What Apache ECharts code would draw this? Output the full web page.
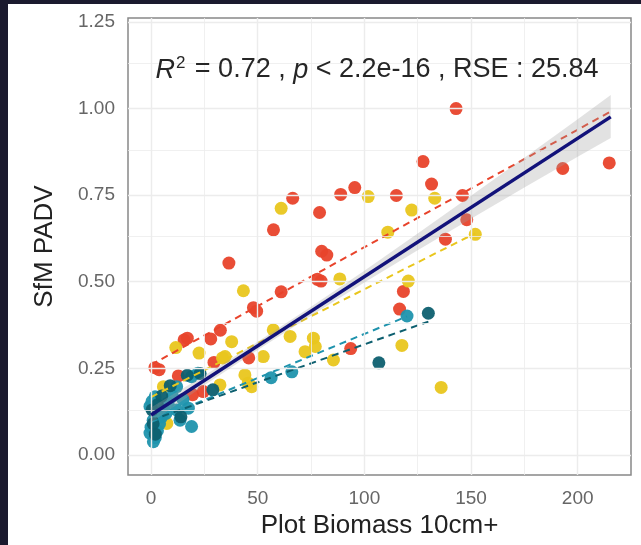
<!DOCTYPE html>
<html>
<head>
<meta charset="utf-8">
<script src="https://cdn.jsdelivr.net/npm/echarts@6/dist/echarts.min.js"></script>
<style>
  html, body { margin: 0; padding: 0; background: #1b1a2e; }
  #chart { width: 641px; height: 545px; }
</style>
</head>
<body>
<div id="chart"></div>
<script>
// points: [biomass, PADV]
const redPts = [
  [143, 1.00], [214.8, 0.843], [193, 0.827], [127.5, 0.847], [131.5, 0.782], [115, 0.749],
  [95.5, 0.772], [88.9, 0.752], [66.4, 0.741], [57.4, 0.65], [79, 0.70], [80, 0.588],
  [82.4, 0.577], [36.5, 0.554], [146, 0.749], [138, 0.623], [148, 0.679], [79.7, 0.502],
  [78, 0.507], [61, 0.471], [48, 0.425], [49.5, 0.415], [118.3, 0.472], [116.5, 0.421],
  [32.5, 0.36], [28, 0.335], [15.5, 0.332], [17, 0.337], [29.5, 0.267], [1.8, 0.252],
  [3.8, 0.246], [12.8, 0.228], [19.5, 0.174], [24.5, 0.183], [45.8, 0.28], [93.6, 0.307]
]
const yellowPts = [
  [101.8, 0.746], [61, 0.712], [133, 0.741], [122.2, 0.707], [111, 0.643], [152, 0.637],
  [120.6, 0.502], [117.6, 0.316], [136, 0.195], [88.5, 0.508], [43.3, 0.474], [22.5, 0.294],
  [37.8, 0.327], [34.7, 0.284], [57.3, 0.361], [65.2, 0.342], [52.6, 0.284], [72.2, 0.298],
  [76.1, 0.337], [77, 0.313], [85.5, 0.274], [44, 0.231], [45.6, 0.207], [47.2, 0.197],
  [32.3, 0.202], [5.8, 0.197], [7.4, 0.091], [11.6, 0.31], [33.5, 0.28]
]
const tealPts = [
  [-0.5, 0.14], [1.9, 0.168], [0.5, 0.155], [2.5, 0.12], [1, 0.1], [0, 0.08], [-0.5, 0.063],
  [1.1, 0.038], [2, 0.05], [3, 0.07], [4, 0.09], [5, 0.11], [6, 0.13], [8, 0.15], [12, 0.13],
  [13.6, 0.10], [19, 0.082], [12, 0.197], [17.5, 0.135], [19, 0.226], [22, 0.236],
  [56.3, 0.223], [66, 0.24], [120, 0.401], [10, 0.17], [7, 0.12], [15, 0.16]
]
const darkTealPts = [
  [106.8, 0.266], [130, 0.409], [0.5, 0.13], [3, 0.145], [9, 0.2], [17, 0.23], [23, 0.235],
  [29, 0.188], [1, 0.09], [2, 0.06], [14, 0.11], [5, 0.17]
]

// fitted lines (end points) and the grey band round the overall fit
const overallFit = [[0, 0.115], [215.5, 0.976]]
const redFit = [[0, 0.26], [215, 0.99]]
const yellowFit = [[0, 0.167], [152, 0.64]]
const tealFit = [[0, 0.095], [120, 0.40]]
const darkTealFit = [[0, 0.10], [130, 0.385]]
const bandX = [0, 25, 50, 75, 100, 125, 150, 175, 200, 215.5]
const bandLow = [0.093, 0.201, 0.303, 0.402, 0.498, 0.591, 0.682, 0.772, 0.861, 0.915]
const bandHigh = [0.137, 0.229, 0.327, 0.428, 0.532, 0.639, 0.748, 0.858, 0.969, 1.039]

const xTicks = [0, 50, 100, 150, 200]
const yTicks = [0, 0.25, 0.5, 0.75, 1, 1.25]
const xMinor = [25, 75, 125, 175]
const yMinor = [0.125, 0.375, 0.625, 0.875, 1.125]

const font = "Liberation Sans"

let myChart = echarts.init(document.getElementById("chart"), null, { renderer: "canvas" })

function gridLines(xs, ys, width){
    return {
        silent: true,
        symbol: ["none", "none"],
        label: { show: false },
        lineStyle: { color: "#ececec", type: "solid", width: width },
        data: xs.map(v => ({ xAxis: v })).concat(ys.map(v => ({ yAxis: v })))
    }
}

function fitLine(name, data, color){
    return {
        name: name,
        type: "line",
        data: data,
        symbol: "none",
        z: 4,
        lineStyle: { color: color, width: 2, type: [7, 5] }
    }
}

function dots(name, data, color){
    return {
        name: name,
        type: "scatter",
        data: data,
        symbolSize: 13,
        z: 3,
        itemStyle: { color: color, opacity: 0.95 }
    }
}

let option = {
    backgroundColor: "#1b1a2e",
    animation: false,
    graphic: [
        { type: "rect", z: -10, shape: { x: 8, y: 4, width: 633, height: 541 }, style: { fill: "#ffffff" } },
        {
            type: "text", z: 10,
            style: {
                x: 377, y: 70,
                align: "center", verticalAlign: "middle",
                text: "{it|R}{sup|2}{n| = 0.72 , }{it|p}{n| < 2.2e-16 , RSE : 25.84}",
                rich: {
                    it: { fontFamily: font, fontSize: 27, fontStyle: "italic", fill: "#262626" },
                    sup: { fontFamily: font, fontSize: 17, fill: "#262626", verticalAlign: "top", padding: [0, 2, 14, 1] },
                    n: { fontFamily: font, fontSize: 27, fill: "#262626" }
                }
            }
        }
    ],
    grid: {
        left: 128, top: 18, right: 10, bottom: 70,
        show: true, backgroundColor: "#fff",
        borderColor: "#888", borderWidth: 1.5
    },
    xAxis: {
        type: "value",
        min: -10.8, max: 225,
        name: "Plot Biomass 10cm+",
        nameLocation: "middle",
        nameGap: 37,
        nameTextStyle: { fontFamily: font, fontSize: 26, color: "#222" },
        axisLine: { show: false },
        splitLine: { show: false },
        axisTick: { show: true, length: 6, customValues: xTicks, lineStyle: { color: "#555" } },
        axisLabel: { customValues: xTicks, margin: 14, fontFamily: font, fontSize: 19, color: "#666" }
    },
    yAxis: {
        type: "value",
        min: -0.058, max: 1.2615,
        name: "SfM PADV",
        nameLocation: "middle",
        nameGap: 70,
        nameTextStyle: { fontFamily: font, fontSize: 26, color: "#222" },
        axisLine: { show: false },
        splitLine: { show: false },
        axisTick: { show: true, length: 6, customValues: yTicks, lineStyle: { color: "#555" } },
        axisLabel: {
            customValues: yTicks, margin: 13, fontFamily: font, fontSize: 19, color: "#666",
            formatter: v => v.toFixed(2)
        }
    },
    series: [
        { type: "line", data: [], markLine: gridLines(xMinor, yMinor, 0.8), z: 1 },
        { type: "line", data: [], markLine: gridLines(xTicks, yTicks, 1.4), z: 1 },
        dots("red", redPts, "#e8432b"),
        dots("yellow", yellowPts, "#e9c61d"),
        dots("teal", tealPts, "#1f93ad"),
        dots("darkTeal", darkTealPts, "#0d5f6f"),
        {
            type: "custom",
            z: 5,
            data: [0],
            renderItem: (params, api) => {
                let pts = bandX.map((x, i) => api.coord([x, bandHigh[i]]))
                let low = bandX.map((x, i) => api.coord([x, bandLow[i]])).reverse()
                return {
                    type: "polygon",
                    shape: { points: pts.concat(low) },
                    style: { fill: "rgba(160,160,160,0.3)" }
                }
            }
        },
        fitLine("redFit", redFit, "#e8432b"),
        fitLine("yellowFit", yellowFit, "#e9c61d"),
        fitLine("tealFit", tealFit, "#1f93ad"),
        fitLine("darkTealFit", darkTealFit, "#0d5f6f"),
        {
            name: "overall",
            type: "line",
            data: overallFit,
            symbol: "none",
            z: 6,
            lineStyle: { color: "#12127a", width: 3.5 }
        }
    ]
}
myChart.setOption(option)
</script>
</body>
</html>
